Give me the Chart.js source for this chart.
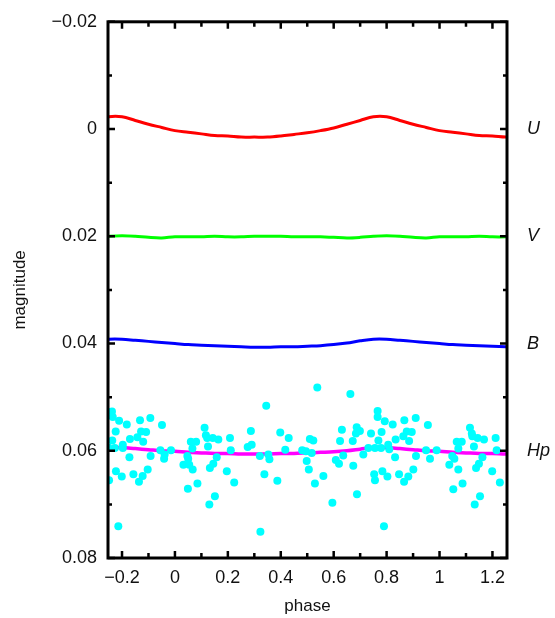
<!DOCTYPE html>
<html>
<head>
<meta charset="utf-8">
<script src="https://cdn.jsdelivr.net/npm/chart.js@4.4.0/dist/chart.umd.min.js"></script>
<style>
  html, body { margin: 0; padding: 0; background: #fff; }
</style>
</head>
<body>
<canvas id="lightCurves" width="555" height="618"></canvas>
<script>
// phase grid for the fitted curves
const phase = [-0.30, -0.25, -0.20, -0.15, -0.10, -0.05, 0.00, 0.05, 0.10, 0.15, 0.20,
  0.25, 0.30, 0.35, 0.40, 0.45, 0.50, 0.55, 0.60, 0.65, 0.70, 0.75, 0.80, 0.85, 0.90,
  0.95, 1.00, 1.05, 1.10, 1.15, 1.20, 1.25, 1.30];

const magU = [-0.0016, -0.0023, -0.0023, -0.0016, -0.0009, -0.0003, 0.0003, 0.0006, 0.0009,
  0.0012, 0.0013, 0.0015, 0.0015, 0.0015, 0.0013, 0.0010, 0.0007, 0.0003, -0.0002, -0.0009,
  -0.0016, -0.0023, -0.0023, -0.0016, -0.0009, -0.0003, 0.0003, 0.0006, 0.0009, 0.0012,
  0.0013, 0.0015, 0.0015];

const magV = [0.0202, 0.0200, 0.0199, 0.0200, 0.0202, 0.0203, 0.0201, 0.0201, 0.0201,
  0.0200, 0.0201, 0.0201, 0.0200, 0.0200, 0.0200, 0.0201, 0.0201, 0.0201, 0.0202, 0.0203,
  0.0202, 0.0200, 0.0199, 0.0200, 0.0202, 0.0203, 0.0201, 0.0201, 0.0201, 0.0200, 0.0201,
  0.0201, 0.0200];

const magB = [0.0395, 0.0392, 0.0392, 0.0394, 0.0396, 0.0398, 0.0400, 0.0402, 0.0403,
  0.0404, 0.0405, 0.0406, 0.0407, 0.0407, 0.0406, 0.0406, 0.0405, 0.0404, 0.0402, 0.0399,
  0.0395, 0.0392, 0.0392, 0.0394, 0.0396, 0.0398, 0.0400, 0.0402, 0.0403, 0.0404, 0.0405,
  0.0406, 0.0407];

const magHp = [0.0597, 0.0594, 0.0594, 0.0596, 0.0598, 0.0600, 0.0601, 0.0603, 0.0604,
  0.0605, 0.0605, 0.0606, 0.0606, 0.0606, 0.0605, 0.0605, 0.0604, 0.0603, 0.0602, 0.0600,
  0.0597, 0.0594, 0.0594, 0.0596, 0.0598, 0.0600, 0.0601, 0.0603, 0.0604, 0.0605, 0.0605,
  0.0606, 0.0606];

// Hipparcos observations
const hpObsPhase = [-0.238, -0.235, -0.211, -0.182, -0.132, -0.093, -0.049, -0.224, -0.128,
  -0.109, -0.142, -0.120, -0.170, -0.237, -0.197, -0.197, -0.227, -0.252, -0.172, -0.092,
  -0.055, -0.015, -0.039, -0.041, 0.047, 0.050, 0.032, 0.054, 0.067, 0.049, 0.085, -0.103,
  -0.122, -0.136, -0.157, -0.201, -0.223, -0.249, -0.214, 0.060, 0.080, 0.066,
  0.112, 0.117, 0.122, 0.143, 0.164, 0.125, 0.208, 0.211, 0.158, 0.145, 0.132, 0.196,
  0.224, 0.151, 0.130, 0.287, 0.290, 0.275, 0.321, 0.353, 0.357, 0.338, 0.387, 0.323,
  0.345, 0.398, 0.430, 0.417, 0.481,
  0.538, 0.663, 0.495, 0.517, 0.498, 0.506, 0.510, 0.523, 0.561, 0.529, 0.595, 0.608,
  0.620, 0.636, 0.624, 0.631, 0.674, 0.688, 0.672, 0.687, 0.699, 0.684, 0.712, 0.731,
  0.741, 0.766, 0.766, 0.793, 0.823, 0.781, 0.769, 0.756, 0.779, 0.806, 0.810, 0.834,
  0.832, 0.863, 0.867, 0.784, 0.753, 0.756, 0.803, 0.847, 0.866, 0.790,
  0.910, 0.956, 0.876, 0.895, 0.885, 0.882, 0.901, 0.911, 0.949, 0.964, 0.989, 1.037,
  1.048, 1.056, 1.071, 1.052, 1.087, 1.065, 1.084, 1.071, 1.115, 1.122, 1.124, 1.144,
  1.168, 1.130, 1.162, 1.149, 1.138, 1.199, 1.212, 1.216, 1.228, 1.153, 1.133];

const hpObsMag = [0.0527, 0.0537, 0.0544, 0.0551, 0.0543, 0.0539, 0.0552, 0.0564, 0.0564,
  0.0565, 0.0575, 0.0583, 0.0578, 0.0581, 0.0589, 0.0595, 0.0595, 0.0594, 0.0612, 0.0610,
  0.0599, 0.0599, 0.0607, 0.0615, 0.0610, 0.0615, 0.0626, 0.0626, 0.0635, 0.0671, 0.0661, 0.0635,
  0.0647, 0.0658, 0.0644, 0.0648, 0.0638, 0.0655, 0.0741, 0.0583, 0.0583, 0.0596,
  0.0557, 0.0571, 0.0576, 0.0576, 0.0579, 0.0592, 0.0576, 0.0599, 0.0612, 0.0624, 0.0632, 0.0638,
  0.0659, 0.0685, 0.0700, 0.0563, 0.0589, 0.0593, 0.0610, 0.0607, 0.0616, 0.0644, 0.0656, 0.0751,
  0.0516, 0.0566, 0.0576, 0.0598, 0.0599,
  0.0482, 0.0494, 0.0601, 0.0604, 0.0619, 0.0635, 0.0578, 0.0581, 0.0647, 0.0661, 0.0697, 0.0617,
  0.0624, 0.0609, 0.0582, 0.0561, 0.0628, 0.0681, 0.0582, 0.0556, 0.0563, 0.0568, 0.0607, 0.0595,
  0.0568, 0.0526, 0.0537, 0.0545, 0.0551, 0.0565, 0.0581, 0.0595, 0.0595, 0.0589, 0.0597, 0.0579,
  0.0612, 0.0573, 0.0543, 0.0638, 0.0644, 0.0655, 0.0648, 0.0644, 0.0658, 0.0741,
  0.0539, 0.0552, 0.0564, 0.0565, 0.0582, 0.0648, 0.0635, 0.0610, 0.0599, 0.0615, 0.0599, 0.0626,
  0.0610, 0.0615, 0.0635, 0.0672, 0.0661, 0.0583, 0.0583, 0.0596, 0.0557, 0.0568, 0.0573, 0.0576,
  0.0579, 0.0592, 0.0612, 0.0624, 0.0632, 0.0638, 0.0576, 0.0599, 0.0659, 0.0685, 0.0700];

// axis ticks and band labels
const xMinorTicks = [-0.1, 0.1, 0.3, 0.5, 0.7, 0.9, 1.1];
const yMinorTicks = [-0.01, 0.01, 0.03, 0.05, 0.07];
const bandNames = ['U', 'V', 'B', 'Hp'];
const bandMag = [0, 0.02, 0.04, 0.06];

const FONT = 'Liberation Sans, Arial, sans-serif';

function fmtTick(v) {
  const s = Math.abs(v) < 1e-9 ? '0' : String(parseFloat(v.toFixed(2)));
  return s.replace('-', '\u2212');
}

function pts(xs, ys) {
  return xs.map((x, i) => ({ x: x, y: ys[i] }));
}

const frameTicks = {
  id: 'frameTicks',
  afterDatasetsDraw(chart) {
    const { ctx, chartArea: a, scales: { x, y } } = chart;
    ctx.save();
    ctx.strokeStyle = '#000';
    ctx.lineWidth = 2.5;
    ctx.beginPath();
    const xt = (v, len) => {
      const p = x.getPixelForValue(v);
      ctx.moveTo(p, a.bottom); ctx.lineTo(p, a.bottom - len);
      ctx.moveTo(p, a.top); ctx.lineTo(p, a.top + len);
    };
    const yt = (v, len) => {
      const p = y.getPixelForValue(v);
      ctx.moveTo(a.left, p); ctx.lineTo(a.left + len, p);
      ctx.moveTo(a.right, p); ctx.lineTo(a.right - len, p);
    };
    x.ticks.forEach(t => xt(t.value, 7));
    xMinorTicks.forEach(v => xt(v, 5));
    y.ticks.forEach(t => yt(t.value, 7));
    yMinorTicks.forEach(v => yt(v, 4));
    ctx.stroke();

    ctx.lineWidth = 3;
    ctx.strokeRect(a.left, a.top, a.right - a.left, a.bottom - a.top);

    // band labels on the right
    ctx.fillStyle = '#111';
    ctx.font = 'italic 18px ' + FONT;
    ctx.textAlign = 'left';
    ctx.textBaseline = 'middle';
    bandNames.forEach((n, i) => ctx.fillText(n, a.right + 20, y.getPixelForValue(bandMag[i])));

    // axis titles
    ctx.font = '17px ' + FONT;
    ctx.textAlign = 'center';
    ctx.fillText('phase', (a.left + a.right) / 2, 606);
    ctx.translate(20, (a.top + a.bottom) / 2);
    ctx.rotate(-Math.PI / 2);
    ctx.fillText('magnitude', 0, 0);
    ctx.restore();
  }
};

const curveStyle = (color, w) => ({
  type: 'line', showLine: true, borderColor: color, borderWidth: w,
  pointRadius: 0, tension: 0.35, fill: false, clip: 0
});

new Chart(document.getElementById('lightCurves'), {
  type: 'scatter',
  data: {
    datasets: [
      { label: 'Hp obs', data: pts(hpObsPhase, hpObsMag), pointRadius: 4,
        backgroundColor: '#00ffff', borderWidth: 0, clip: 0 },
      { label: 'U', data: pts(phase, magU), ...curveStyle('#ff0000', 3) },
      { label: 'V', data: pts(phase, magV), ...curveStyle('#00ff00', 3) },
      { label: 'B', data: pts(phase, magB), ...curveStyle('#0000ff', 3) },
      { label: 'Hp', data: pts(phase, magHp), ...curveStyle('#ff00ff', 3.5) }
    ]
  },
  options: {
    responsive: false,
    animation: false,
    layout: { padding: { left: 0, right: 48, top: 20, bottom: 0 } },
    plugins: { legend: { display: false }, tooltip: { enabled: false } },
    scales: {
      x: {
        type: 'linear', min: -0.253, max: 1.255,
        afterFit: s => { s.height = 60; },
        grid: { display: false, drawTicks: false },
        border: { display: false },
        ticks: {
          stepSize: 0.2, includeBounds: false, autoSkip: false, maxRotation: 0,
          padding: 9, color: '#111', font: { family: FONT, size: 18 },
          callback: fmtTick
        }
      },
      y: {
        type: 'linear', reverse: true, min: -0.02, max: 0.08,
        afterFit: s => { s.width = 108; },
        grid: { display: false, drawTicks: false },
        border: { display: false },
        ticks: {
          stepSize: 0.02, includeBounds: false, autoSkip: false,
          padding: 11, color: '#111', font: { family: FONT, size: 18 },
          callback: fmtTick
        }
      }
    }
  },
  plugins: [frameTicks]
});
</script>
</body>
</html>
